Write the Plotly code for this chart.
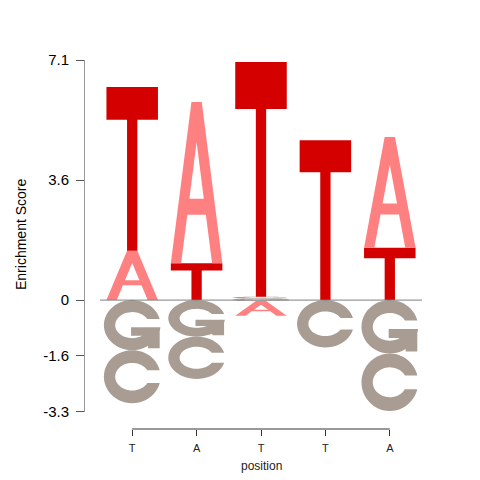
import math
import plotly.graph_objects as go

# ---------------- data ----------------
positions = [1, 2, 3, 4, 5]
position_labels = ["T", "A", "T", "T", "A"]

# letters stacked upward from 0 (bottom -> top) and their heights
up_letters = [["A", "T"], ["T", "A"], ["G", "C", "T"], ["T"], ["T", "A"]]
up_heights = [[1.46, 4.84], [1.09, 4.77], [0.05, 0.05, 6.94], [4.73], [1.55, 3.27]]

# letters stacked downward from 0 (top -> bottom) and their heights
down_letters = [["G", "C"], ["G", "C"], ["G", "A"], ["C"], ["G", "C"]]
down_heights = [[1.48, 1.57], [1.08, 1.25], [0.03, 0.43], [1.40], [1.58, 1.70]]

y_tick_values = [7.1, 3.55, 0, -1.65, -3.3]
y_tick_labels = ["7.1", "3.6", "0", "-1.6", "-3.3"]
y_range = [-3.3, 7.1]

# ---------------- styles ----------------
letter_colors = {"T": "#D40000", "A": "#FF8080", "G": "#A99D93", "C": "#A99D93"}
letter_widths = {"T": 0.8, "A": 0.8, "G": 0.88, "C": 0.88}
FONT = "Liberation Sans, Arial, sans-serif"

RXI, RYI = 0.30, 0.26  # inner radii of the C / G bowl (unit box)


def arc(rx, ry, a0, a1, n=48):
    return [(0.5 + rx * math.cos(a0 + (a1 - a0) * i / n),
             0.5 + ry * math.sin(a0 + (a1 - a0) * i / n)) for i in range(n + 1)]


def ring(open_top, open_bot):
    ao_t = math.asin((open_top - 0.5) / 0.5)
    ai_t = math.asin(min(0.999, (open_top - 0.5) / RYI))
    ao_b = math.asin((open_bot - 0.5) / 0.5)
    ai_b = math.asin(max(-0.999, (open_bot - 0.5) / RYI))
    outer = arc(0.5, 0.5, ao_t, 2 * math.pi + ao_b)
    inner = arc(RXI, RYI, 2 * math.pi + ai_b, ai_t)
    return outer + inner


def rect(x0, y0, x1, y1):
    return [(x0, y0), (x1, y0), (x1, y1), (x0, y1)]


def glyph(letter):
    if letter == "T":
        return [[(0, 1), (1, 1), (1, 0.8), (0.6, 0.8), (0.6, 0), (0.4, 0), (0.4, 0.8), (0, 0.8)]], "nonzero"
    if letter == "A":
        outer = [(0, 0), (0.4, 1), (0.6, 1), (1, 0), (0.8, 0), (0.68, 0.3), (0.32, 0.3), (0.2, 0)]
        inner = [(0.64, 0.4), (0.5, 0.75), (0.36, 0.4)]
        return [outer, inner], "evenodd"
    if letter == "C":
        return [ring(0.62, 0.38)], "nonzero"
    if letter == "G":
        return [ring(0.62, 0.46), rect(0.48, 0.29, 0.985, 0.46), rect(0.78, 0.04, 0.985, 0.46)], "nonzero"


def letter_shape(letter, xc, y0, y1):
    polys, rule = glyph(letter)
    w = letter_widths[letter]
    parts = []
    for poly in polys:
        pts = [(xc - w / 2 + u * w, y0 + v * (y1 - y0)) for u, v in poly]
        parts.append("M " + " L ".join(f"{x:.5f},{y:.5f}" for x, y in pts) + " Z")
    return dict(type="path", xref="x", yref="y", path=" ".join(parts),
                fillcolor=letter_colors[letter], line=dict(width=0), fillrule=rule,
                layer="above")


shapes = []
for xc, lets, hs in zip(positions, up_letters, up_heights):
    base = 0.0
    for l, h in zip(lets, hs):
        shapes.append(letter_shape(l, xc, base, base + h))
        base += h
for xc, lets, hs in zip(positions, down_letters, down_heights):
    base = 0.0
    for l, h in zip(lets, hs):
        shapes.append(letter_shape(l, xc, base - h, base))
        base -= h

# zero baseline
shapes.append(dict(type="line", xref="x", yref="y", x0=positions[0] - 0.5, x1=positions[-1] + 0.5,
                   y0=0, y1=0, line=dict(color="#7f7f7f", width=1), layer="above"))
# x axis line (between first and last tick)
shapes.append(dict(type="line", xref="x", yref="paper", x0=positions[0], x1=positions[-1],
                   y0=0, y1=0, line=dict(color="#333333", width=1)))

fig = go.Figure()
fig.add_trace(go.Scatter(x=positions, y=[0] * len(positions), mode="markers",
                         marker=dict(opacity=0), hoverinfo="skip", showlegend=False))

# page-pixel layout (the page has an 8px body offset)
W, H = 480, 480
OFF = 8
axis_x, plot_right, plot_top, xaxis_y, ydata_bottom, xdata_left = 84, 422, 60, 429, 411.7, 100
ml = axis_x - OFF
mt = plot_top - OFF
mr = W - (plot_right - OFF)
mb = H - (xaxis_y - OFF)
pw = plot_right - axis_x
ph = xaxis_y - plot_top

fig.update_layout(
    width=W, height=H,
    margin=dict(l=ml, r=mr, t=mt, b=mb, pad=0),
    paper_bgcolor="white", plot_bgcolor="white",
    font=dict(family=FONT, color="#000000"),
    showlegend=False,
    shapes=shapes,
    xaxis=dict(domain=[(xdata_left - axis_x) / pw, 1], range=[positions[0] - 0.5, positions[-1] + 0.5],
               anchor="free", position=0,
               tickmode="array", tickvals=positions, ticktext=position_labels,
               ticks="outside", ticklen=6, tickcolor="#333333", tickwidth=1,
               showline=False, showgrid=False, zeroline=False, ticklabelstandoff=3,
               tickfont=dict(size=11, family=FONT, color="#222222")),
    yaxis=dict(domain=[(xaxis_y - ydata_bottom) / ph, 1], range=y_range,
               anchor="free", position=0,
               tickmode="array", tickvals=y_tick_values, ticktext=y_tick_labels,
               ticks="outside", ticklen=8, tickcolor="#555555", tickwidth=1,
               showline=True, linecolor="#999999", linewidth=1,
               showgrid=False, zeroline=False, ticklabelstandoff=4,
               tickfont=dict(size=15, family=FONT, color="#000000")),
    annotations=[
        dict(text="Enrichment Score", xref="paper", yref="paper",
             x=(21 - axis_x) / pw, y=(xaxis_y - 235) / ph, textangle=-90,
             showarrow=False, xanchor="center", yanchor="middle",
             font=dict(size=14, family=FONT, color="#000000")),
        dict(text="position", xref="x", yref="paper",
             x=positions[len(positions) // 2], y=(xaxis_y - 466) / ph,
             showarrow=False, xanchor="center", yanchor="middle",
             font=dict(size=12, family=FONT, color="#222222")),
    ],
)

fig.write_html("out.html")
